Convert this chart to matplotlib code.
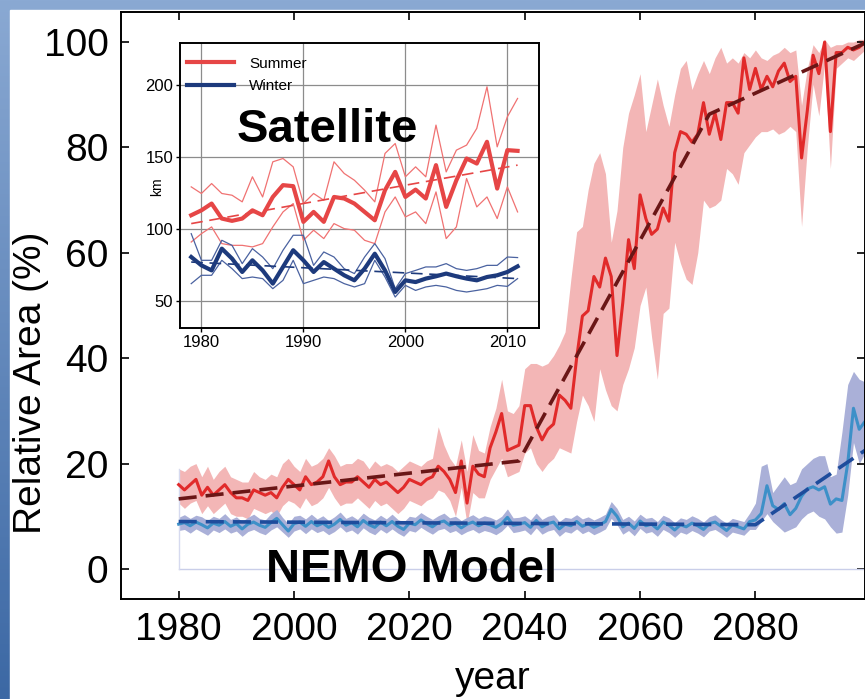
import numpy as np
import matplotlib.pyplot as plt
from matplotlib.patches import Rectangle
from matplotlib.colors import LinearSegmentedColormap

plt.rcParams['font.family'] = ['Liberation Sans', 'DejaVu Sans']

# NEMO model, relative area (%), yearly 1980-2099
years = np.arange(1980, 2100)
summer_model = [16.0, 15.0, 16.0, 17.0, 14.0, 15.5, 14.0, 15.0, 16.0, 14.5,
                13.5, 13.5, 13.0, 15.0, 14.5, 14.0, 14.5, 13.5, 15.5, 17.0,
                16.0, 15.0, 17.5, 16.0, 16.5, 17.5, 20.5, 17.5, 16.0, 16.5,
                16.5, 17.5, 16.5, 15.5, 17.0, 16.0, 16.5, 15.5, 14.5, 15.5,
                17.0, 16.5, 16.0, 17.0, 17.5, 19.5, 18.5, 17.0, 14.5, 20.5,
                12.5, 19.5, 18.0, 17.5, 23.0, 26.0, 29.5, 22.5, 23.0, 23.5,
                31.0, 31.0, 27.0, 24.5, 26.5, 27.5, 33.0, 32.0, 30.5, 40.0,
                48.0, 49.0, 55.5, 53.5, 59.0, 55.5, 40.5, 50.5, 62.5, 57.0,
                71.0, 66.5, 63.5, 64.5, 68.5, 66.0, 79.0, 83.0, 82.5, 81.0,
                82.5, 88.5, 82.5, 86.5, 81.5, 88.5, 88.5, 86.5, 97.0, 91.0,
                95.0, 91.0, 93.5, 91.5, 94.5, 96.0, 92.5, 93.5, 78.0, 87.0,
                97.5, 94.0, 100.0, 83.0, 98.0, 98.0, 99.0, 98.5, 99.0, 100.0]
summer_hi = [19.0, 18.5, 19.5, 20.0, 17.5, 19.5, 17.0, 18.5, 19.5, 17.5,
             17.0, 16.5, 16.5, 18.5, 17.5, 17.0, 18.0, 17.5, 20.0, 21.0,
             19.5, 18.5, 21.0, 19.5, 20.0, 21.0, 23.0, 21.5, 19.5, 20.0,
             20.0, 21.0, 20.5, 19.0, 20.5, 19.5, 20.0, 19.5, 18.5, 19.5,
             20.5, 20.0, 19.5, 20.5, 21.0, 27.0, 23.5, 21.0, 19.5, 24.5,
             18.5, 25.5, 22.5, 22.0, 27.0, 30.5, 36.0, 30.0, 29.5, 31.0,
             38.0, 39.0, 39.0, 38.5, 39.0, 40.5, 42.5, 45.0, 55.0, 64.0,
             65.0, 72.0, 77.0, 79.0, 75.0, 62.0, 68.0, 80.0, 86.5, 90.0,
             94.0, 83.0, 88.0, 93.0, 88.0, 84.0, 90.0, 95.0, 96.5, 91.0,
             94.0, 96.5, 94.0, 97.0, 99.0, 96.0, 97.0, 96.0, 98.0, 97.0,
             98.5, 97.0, 96.5, 97.5, 98.0, 99.0, 98.0, 98.5, 88.0, 95.0,
             99.5, 98.0, 100.5, 99.0, 99.5, 99.5, 100.0, 100.0, 100.5, 100.5]
summer_lo = [12.5, 11.5, 12.5, 13.0, 10.5, 12.0, 10.5, 11.5, 12.5, 10.5,
             10.0, 10.0, 9.5, 11.5, 11.0, 10.5, 11.0, 10.0, 12.0, 13.0,
             12.5, 11.5, 13.5, 12.0, 12.5, 13.5, 15.5, 13.5, 12.0, 12.5,
             12.5, 13.5, 12.5, 11.5, 13.0, 12.0, 12.5, 11.5, 10.5, 11.5,
             13.0, 12.5, 12.0, 13.0, 13.5, 15.0, 14.5, 13.0, 10.0, 15.5,
             8.5, 14.5, 13.5, 13.5, 17.0, 19.0, 21.0, 17.5, 18.0, 18.5,
             22.0, 23.0, 20.0, 18.5, 20.0, 21.0, 23.0, 22.5, 22.0, 28.0,
             33.0, 31.0, 28.0, 38.0, 34.0, 31.0, 30.0, 35.0, 38.0, 42.0,
             50.0, 53.5, 44.0, 36.0, 48.5, 49.5, 62.0, 58.0, 55.0, 54.0,
             60.0, 70.0, 68.5, 69.0, 70.0, 76.0, 75.0, 73.0, 79.0, 80.5,
             82.0, 83.0, 83.0, 83.5, 82.5, 83.0, 84.0, 83.0, 65.0, 80.0,
             92.0, 86.0, 96.0, 76.0, 95.0, 96.0, 97.0, 96.5, 97.5, 98.5]

winter_model = [8.5, 8.8, 8.2, 8.9, 8.4, 7.8, 8.7, 8.3, 9.0, 8.1,
                8.6, 7.6, 8.5, 8.9, 8.3, 7.9, 8.8, 9.6, 8.4, 7.2,
                8.6, 8.9, 8.1, 9.0, 8.2, 8.7, 7.9, 8.5, 9.4, 8.3,
                8.8, 8.0, 9.2, 8.4, 7.9, 8.9, 8.2, 9.0, 8.1, 7.5,
                8.7, 8.4, 9.3, 8.6, 8.0, 8.8, 9.1, 8.3, 8.7, 7.8,
                8.5, 8.9, 8.2, 8.7, 8.4, 7.9, 8.6, 9.8, 8.3, 8.5,
                8.8, 7.9, 9.2, 8.0, 8.6, 8.9, 7.6, 8.5, 8.2, 9.0,
                8.1, 8.6, 7.9, 8.4, 9.0, 11.3, 10.0, 8.0, 8.7, 7.7,
                9.1, 8.2, 8.5, 7.6, 8.9, 8.3, 7.4, 8.4, 8.0, 8.7,
                8.2, 7.5, 8.6, 8.9, 8.1, 7.3, 8.4, 8.0, 7.6, 9.0,
                9.3, 10.5, 15.8, 12.0, 11.3, 12.4, 10.3, 11.5, 13.8, 15.2,
                15.6, 15.0, 15.6, 12.3, 13.3, 13.0, 20.0, 30.5, 26.5, 28.0]
winter_hi = [9.8, 10.3, 9.6, 10.2, 9.9, 9.2, 10.0, 9.6, 10.5, 9.4,
             9.9, 9.0, 9.8, 10.4, 9.6, 9.3, 10.5, 11.3, 9.8, 8.6,
             10.0, 10.2, 9.5, 10.4, 9.5, 10.1, 9.2, 9.9, 10.8, 9.6,
             10.1, 9.4, 10.6, 9.8, 9.3, 10.2, 9.5, 10.4, 9.4, 8.9,
             10.0, 9.8, 10.7, 10.0, 9.4, 10.1, 10.6, 9.7, 10.0, 9.2,
             9.8, 10.3, 9.6, 10.1, 9.8, 9.3, 10.0, 11.4, 9.7, 9.8,
             10.1, 9.3, 10.6, 9.4, 10.0, 10.3, 9.0, 9.8, 9.6, 10.3,
             9.5, 9.9, 9.3, 9.8, 10.4, 12.8, 11.5, 9.4, 10.0, 9.1,
             10.4, 9.6, 9.8, 9.0, 10.2, 9.7, 8.8, 9.7, 9.4, 10.1,
             9.6, 8.9, 9.9, 10.3, 9.4, 8.7, 9.6, 9.3, 9.0, 10.6,
             12.5, 19.5, 20.0, 14.5, 16.0, 17.5, 16.0, 16.5, 19.0, 20.0,
             21.0, 21.5, 21.5, 17.5, 18.0, 26.0, 35.0, 37.5, 36.0, 35.5]
winter_lo = [7.3, 7.5, 6.8, 7.6, 7.0, 6.4, 7.4, 6.9, 7.6, 6.8,
             7.2, 6.2, 7.1, 7.5, 6.9, 6.5, 7.4, 8.0, 7.0, 6.0,
             7.2, 7.6, 6.7, 7.6, 6.9, 7.3, 6.5, 7.1, 8.0, 7.0,
             7.4, 6.6, 7.8, 7.0, 6.5, 7.5, 6.8, 7.6, 6.8, 6.2,
             7.3, 7.0, 7.9, 7.2, 6.6, 7.4, 7.7, 6.9, 7.3, 6.5,
             7.1, 7.5, 6.8, 7.3, 7.0, 6.5, 7.2, 8.3, 6.9, 7.1,
             7.4, 6.5, 7.8, 6.6, 7.2, 7.5, 6.2, 7.1, 6.8, 7.6,
             6.7, 7.2, 6.5, 7.0, 7.6, 9.6, 8.4, 6.6, 7.3, 6.3,
             7.7, 6.8, 7.1, 6.2, 7.5, 6.9, 6.0, 7.0, 6.6, 7.3,
             6.8, 6.1, 7.2, 7.5, 6.8, 6.0, 7.0, 6.7, 6.4, 7.5,
             7.5, 9.0, 10.5, 9.0, 8.0, 7.0, 7.5, 8.0, 9.5, 10.5,
             11.0, 10.0, 9.5, 8.0, 6.8, 7.0, 14.0, 24.0, 20.0, 22.0]

# piecewise linear trends
summer_trend_x = [1980, 2039, 2072, 2099]
summer_trend_y = [13.3, 20.5, 86.3, 99.8]
winter_trend_x = [1980, 2080, 2099]
winter_trend_y = [9.0, 8.4, 22.5]

# satellite inset (km), 1979-2011
sat_years = np.arange(1979, 2012)
sat_summer = [109.6, 113.0, 117.7, 107.3, 105.7, 107.3, 113.0, 109.6, 122.3, 130.5,
              129.8, 105.0, 111.9, 105.0, 122.3, 121.2, 117.7, 111.9, 106.1, 127.0,
              139.7, 122.3, 127.4, 121.2, 144.4, 115.4, 133.9, 149.0, 145.5, 160.6,
              128.1, 154.8, 154.3]
sat_summer_hi = [129.3, 124.7, 131.6, 124.7, 123.5, 118.9, 136.3, 122.3, 146.7, 149.0,
                 143.2, 117.7, 124.7, 120.0, 146.7, 138.6, 133.9, 127.0, 118.9, 152.5,
                 159.4, 136.3, 143.2, 136.3, 172.2, 139.7, 154.8, 158.3, 169.9, 198.8,
                 157.1, 178.0, 190.7]
sat_summer_lo = [91.0, 96.8, 101.5, 89.9, 88.7, 88.7, 87.6, 89.9, 101.5, 111.9,
                 117.7, 92.2, 99.2, 93.4, 103.8, 100.3, 99.2, 92.2, 89.9, 111.9,
                 122.3, 108.4, 111.9, 103.8, 125.8, 93.4, 101.5, 135.1, 115.4, 122.3,
                 107.3, 129.3, 111.9]
sat_winter = [80.6, 74.8, 71.3, 86.4, 79.5, 70.2, 78.3, 71.3, 62.1, 73.7,
              85.3, 78.3, 70.2, 77.1, 72.5, 67.9, 64.4, 72.5, 82.9, 71.3,
              56.3, 64.4, 63.2, 65.6, 67.2, 69.1, 67.2, 65.6, 64.4, 66.7,
              67.9, 70.2, 74.1]
sat_winter_hi = [96.8, 78.3, 78.3, 92.2, 88.7, 76.0, 86.4, 80.6, 72.5, 85.3,
                 95.7, 95.7, 74.8, 84.1, 80.6, 72.5, 69.1, 80.6, 89.9, 79.5,
                 58.6, 69.1, 71.3, 73.7, 73.7, 76.0, 72.5, 71.3, 72.5, 74.8,
                 74.8, 80.6, 80.2]
sat_winter_lo = [62.1, 67.9, 67.9, 78.3, 72.5, 65.6, 66.7, 65.6, 58.6, 64.4,
                 78.3, 62.1, 64.4, 66.7, 65.6, 62.1, 59.8, 62.1, 78.3, 66.7,
                 52.8, 60.9, 57.4, 59.8, 60.9, 59.8, 57.4, 56.3, 57.4, 58.6,
                 60.9, 60.2, 65.6]
sat_summer_trend = [103.8, 144.4]
sat_winter_trend = [77.1, 65.6]

fig = plt.figure(figsize=(8.65, 6.99), dpi=100)

# slide background: blue gradient with a white panel
bg = fig.add_axes([0, 0, 1, 1], zorder=-10)
grad = np.linspace(0, 1, 256).reshape(-1, 1)
cmap = LinearSegmentedColormap.from_list('slide', ['#8aa9d3', '#3c68a4'])
bg.imshow(grad, aspect='auto', cmap=cmap, extent=[0, 1, 0, 1])
bg.add_patch(Rectangle((10 / 865, 0), 1, 1 - 10 / 699, color='white'))
bg.set_xlim(0, 1)
bg.set_ylim(0, 1)
bg.set_axis_off()

# main model panel
ax = fig.add_axes([121 / 865, 1 - 599 / 699, 744 / 865, 587 / 699])
ax.fill_between(years, summer_lo, summer_hi, color='#f3b6b6', lw=0)
ax.fill_between(years, winter_lo, winter_hi, color='#aab0d8', lw=0)
ax.plot([years[0], years[-1]], [0, 0], color='#c9cee9', lw=1)
ax.plot([years[0], years[0]], [0, summer_hi[0]], color='#d6daef', lw=1)
ax.plot(years, summer_model, color='#e12a2a', lw=2.2)
ax.plot(years, winter_model, color='#3d90c8', lw=2.2)
ax.plot(summer_trend_x, summer_trend_y, color='#6a1616', lw=2.6, dashes=(5, 2.5))
ax.plot(winter_trend_x, winter_trend_y, color='#1e4c9c', lw=2.6, dashes=(5, 2.5))

ax.set_xlim(1970, 2099)
ax.set_ylim(-5.7, 105.7)
ax.set_xticks([1980, 2000, 2020, 2040, 2060, 2080])
ax.set_yticks([0, 20, 40, 60, 80, 100])
ax.tick_params(direction='in', top=True, right=True, length=6, width=1.2,
               labelsize=28, pad=9)
for s in ax.spines.values():
    s.set_linewidth(1.4)
ax.set_xlabel('year', fontsize=28, labelpad=10)
ax.set_ylabel('Relative Area (%)', fontsize=28, va='center')
ax.yaxis.set_label_coords(-0.121, 0.368)

# satellite inset
axin = fig.add_axes([180 / 865, 1 - 328 / 699, 359 / 865, 285 / 699])
axin.grid(True, color='#8c8c8c', lw=0.9)
axin.set_axisbelow(True)
axin.plot(sat_years, sat_summer_hi, color='#f07272', lw=0.9)
axin.plot(sat_years, sat_summer_lo, color='#f07272', lw=0.9)
axin.plot(sat_years, sat_winter_hi, color='#4a62a0', lw=0.9)
axin.plot(sat_years, sat_winter_lo, color='#4a62a0', lw=0.9)
l1, = axin.plot(sat_years, sat_summer, color='#e64646', lw=3, label='Summer')
l2, = axin.plot(sat_years, sat_winter, color='#1d3a7c', lw=3, label='Winter')
axin.plot([1979, 2011], sat_summer_trend, color='#e64646', lw=1.2, dashes=(7, 4))
axin.plot([1979, 2011], sat_winter_trend, color='#1d3a7c', lw=1.2, dashes=(7, 4))
axin.set_xlim(1977.9, 2013.1)
axin.set_ylim(31.3, 229.2)
axin.set_xticks([1980, 1990, 2000, 2010])
axin.set_yticks([50, 100, 150, 200])
axin.tick_params(length=3, width=1, labelsize=12, pad=2)
for s in axin.spines.values():
    s.set_linewidth(1.4)
axin.set_ylabel('km', fontsize=10, va='center')
axin.yaxis.set_label_coords(-0.064, 0.495)
axin.legend(handles=[l1, l2], loc='upper left', bbox_to_anchor=(-0.02, 1.0),
            frameon=False, fontsize=11, handlelength=3.1, handletextpad=1.0,
            borderaxespad=0.5, labelspacing=0.55)

fig.text(237 / 865, 1 - 142 / 699, 'Satellite', fontsize=34, fontweight='bold',
         ha='left', va='baseline')
fig.text(266 / 865, 1 - 582 / 699, 'NEMO Model', fontsize=34, fontweight='bold',
         ha='left', va='baseline')

fig.savefig('out.png', dpi=100)
